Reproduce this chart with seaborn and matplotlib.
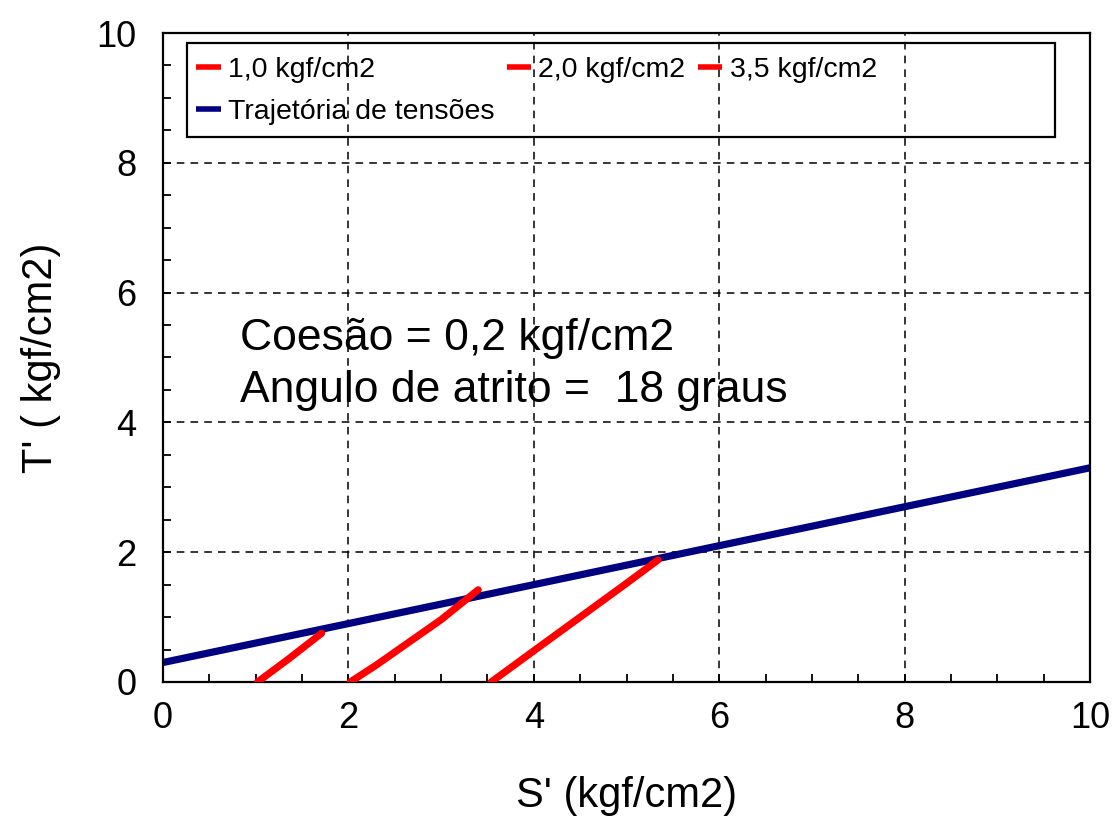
import matplotlib
matplotlib.use("Agg")
import matplotlib.pyplot as plt
from matplotlib.patches import Rectangle
from matplotlib.ticker import MultipleLocator
import seaborn as sns
import pandas as pd

# Stress path data (S', T' in kgf/cm2)
path_1_s = [1.02, 1.35, 1.71]
path_1_t = [0.00, 0.35, 0.75]
path_2_s = [2.02, 2.30, 2.60, 3.00, 3.40]
path_2_t = [0.00, 0.26, 0.56, 0.96, 1.42]
path_3_s = [3.54, 4.00, 4.50, 5.00, 5.34]
path_3_t = [0.00, 0.48, 1.00, 1.52, 1.88]

# Failure envelope (Kf line)
envelope_s = [0.0, 10.0]
envelope_t = [0.30, 3.30]

series_labels = ["1,0 kgf/cm2", "2,0 kgf/cm2", "3,5 kgf/cm2", "Trajetória de tensões"]
x_label = "S' (kgf/cm2)"
y_label = "T' ( kgf/cm2)"
note_lines = ["Coesão = 0,2 kgf/cm2", "Angulo de atrito =  18 graus"]

sns.set_style("white")
plt.rcParams["font.family"] = ["Liberation Sans", "DejaVu Sans"]
plt.rcParams["text.color"] = "black"
plt.rcParams["axes.labelcolor"] = "black"
plt.rcParams["xtick.color"] = "black"
plt.rcParams["ytick.color"] = "black"

fig = plt.figure(figsize=(11.13, 8.19), dpi=100)
ax = fig.add_axes([0.1465, 0.1673, 0.8328, 0.7924])

red = "#FF0000"
navy = "#000080"

for s, t, lab in [(path_1_s, path_1_t, series_labels[0]),
                  (path_2_s, path_2_t, series_labels[1]),
                  (path_3_s, path_3_t, series_labels[2])]:
    df = pd.DataFrame({"s": s, "t": t})
    sns.lineplot(data=df, x="s", y="t", sort=False, color=red, linewidth=5.2,
                 ax=ax, label=lab, solid_capstyle="round",
                 solid_joinstyle="round", zorder=3)

df_env = pd.DataFrame({"s": envelope_s, "t": envelope_t})
sns.lineplot(data=df_env, x="s", y="t", sort=False, color=navy, linewidth=5.2,
             ax=ax, label=series_labels[3], zorder=2)

ax.set_xlim(0, 10)
ax.set_ylim(0, 10)
ax.xaxis.set_major_locator(MultipleLocator(2))
ax.yaxis.set_major_locator(MultipleLocator(2))
ax.xaxis.set_minor_locator(MultipleLocator(0.5))
ax.yaxis.set_minor_locator(MultipleLocator(0.5))
ax.tick_params(axis="both", which="both", direction="in", length=6, width=1.3,
               color="black", bottom=True, left=True, top=False, right=False)
ax.tick_params(axis="x", which="major", labelsize=26, pad=14, labelcolor="black")
ax.tick_params(axis="y", which="major", labelsize=26, pad=19, labelcolor="black")
ax.grid(True, which="major", color="black", linestyle=(0, (5, 4)), linewidth=1.1)
ax.grid(False, which="minor")
for sp in ax.spines.values():
    sp.set_color("black")
    sp.set_linewidth(1.6)

ax.set_xlabel(x_label, fontsize=30, color="black")
ax.set_ylabel(y_label, fontsize=30, color="black")
ax.xaxis.set_label_coords(0.5, -0.145)
ax.yaxis.set_label_coords(-0.11, 0.5)

ax.text(0.83, 5.11, note_lines[0], fontsize=32, va="baseline", ha="left", color="black")
ax.text(0.83, 4.31, note_lines[1], fontsize=32, va="baseline", ha="left", color="black")

# Legend: columns filled top-down, framed by a separate box
h, l = ax.get_legend_handles_labels()
order = [0, 3, 1, 2]
leg = ax.legend([h[i] for i in order], [l[i] for i in order], ncol=3,
                loc="upper left", bbox_to_anchor=(0.036, 0.963), frameon=False,
                fontsize=20.5, handlelength=0.85, handletextpad=0.25,
                columnspacing=0.45, labelspacing=0.55, borderaxespad=0,
                borderpad=0)
for txt in leg.get_texts():
    txt.set_color("black")
for lh in leg.get_lines():
    lh.set_linewidth(4)
    lh.set_solid_capstyle("butt")
ax.add_patch(Rectangle((0.0259, 0.8398), 0.9361, 0.1448, transform=ax.transAxes,
                       fill=False, edgecolor="black", linewidth=1.6, zorder=5))

fig.savefig("out.png", dpi=100, facecolor="white")
